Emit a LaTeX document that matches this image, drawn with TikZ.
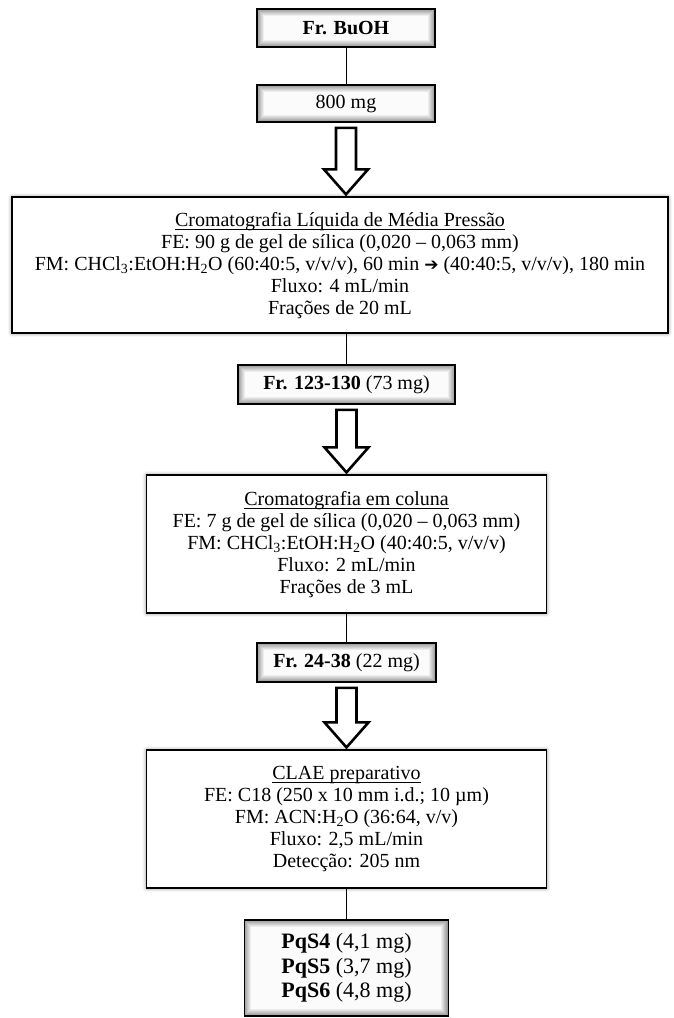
\documentclass[tikz,border=0pt]{standalone}
\usepackage{amsmath}
\usepackage{fontspec}
\setmainfont{Liberation Serif}
\newfontfamily\symbfont{DejaVu Sans}
\usepackage{tikz}
\usetikzlibrary{positioning, calc, shadows.blur}

\tikzstyle{frac} = [rectangle, draw=black, line width=1.6pt, minimum width=178pt, minimum height=38pt, inner sep=2pt, text centered, font=\fontsize{20}{22}\selectfont,
  path picture={\foreach \i [evaluate=\i as \g using 40-5.5*\i] in {0,...,7}
    \fill[black!\g] ([xshift=\i pt, yshift=-\i pt]path picture bounding box.north west) rectangle ([xshift=-\i pt, yshift=\i pt]path picture bounding box.south east);}]
\tikzstyle{method} = [rectangle, draw=black, line width=1.4pt, fill=white, align=center, inner sep=0pt, font=\fontsize{20}{22}\selectfont,
  blur shadow={shadow xshift=0pt, shadow yshift=0pt, shadow blur radius=4pt, shadow opacity=50}]
\tikzstyle{link} = [line width=0.9pt, -]
\tikzstyle{hollow} = [line width=2.6pt, line join=miter, fill=white]

% title line of a method box
\newcommand{\boxtitle}[1]{\underline{\smash[b]{#1}}}
% open block arrow from the bottom of #1 down to the top of #2
\newcommand{\hollowarrow}[2]{%
  \draw[hollow] ($(#1.south)+(-10pt,-5pt)$) -- ($(#1.south)+(10pt,-5pt)$)
    -- ($(#1.south |- #2.north)+(10pt,27pt)$) -- ($(#1.south |- #2.north)+(22pt,27pt)$)
    -- ($(#1.south |- #2.north)+(0pt,2pt)$) -- ($(#1.south |- #2.north)+(-22pt,27pt)$)
    -- ($(#1.south |- #2.north)+(-10pt,27pt)$) -- cycle;}

\begin{document}
\begin{tikzpicture}
  \useasboundingbox (-346pt,28pt) rectangle (328pt,-990pt);

  \node (buoh) [frac] {\textbf{Fr. BuOH}};
  \node (mass) [frac, minimum height=37pt, below = 36.5pt of buoh] {800 mg};
  \node (clmp) [method, minimum width=656pt, minimum height=136pt, below = 73.5pt of mass, xshift=-6pt]
    {\boxtitle{Cromatografia Líquida de Média Pressão}\\
     FE: 90 g de gel de sílica (0,020 – 0,063 mm)\\
     FM: CHCl\textsubscript{3}:EtOH:H\textsubscript{2}O (60:40:5, v/v/v), 60 min {\symbfont\fontsize{17}{22}\selectfont ➔} (40:40:5, v/v/v), 180 min\\
     Fluxo: 4 mL/min\\
     Frações de 20 mL};
  \node (fr123) [frac, minimum width=217pt, minimum height=39pt, below = 30.5pt of clmp, xshift=6.5pt] {\textbf{Fr. 123-130} (73 mg)};
  \node (coluna) [method, minimum width=400pt, minimum height=138pt, below = 69.5pt of fr123]
    {\boxtitle{Cromatografia em coluna}\\
     FE: 7 g de gel de sílica (0,020 – 0,063 mm)\\
     FM: CHCl\textsubscript{3}:EtOH:H\textsubscript{2}O (40:40:5, v/v/v)\\
     Fluxo: 2 mL/min\\
     Frações de 3 mL};
  \node (fr24) [frac, minimum width=179pt, minimum height=39pt, below = 28.5pt of coluna] {\textbf{Fr. 24-38} (22 mg)};
  \node (clae) [method, minimum width=400pt, minimum height=138pt, below = 66.5pt of fr24]
    {\boxtitle{CLAE preparativo}\\
     FE: C18 (250 x 10 mm i.d.; 10 µm)\\
     FM: ACN:H\textsubscript{2}O (36:64, v/v)\\
     Fluxo: 2,5 mL/min\\
     Detecção: 205 nm};
  \node (pqs) [frac, minimum width=204pt, minimum height=96pt, below = 30.5pt of clae, align=center, font=\fontsize{22}{24.5}\selectfont]
    {\textbf{PqS4} (4,1 mg)\\ \textbf{PqS5} (3,7 mg)\\ \textbf{PqS6} (4,8 mg)};

  \draw [link] (buoh) -- (mass);
  \draw [link] (clmp.south -| fr123.north) -- (fr123);
  \draw [link] (coluna) -- (fr24);
  \draw [link] (clae) -- (pqs);

  \hollowarrow{mass}{clmp}
  \hollowarrow{fr123}{coluna}
  \hollowarrow{fr24}{clae}
\end{tikzpicture}
\end{document}
